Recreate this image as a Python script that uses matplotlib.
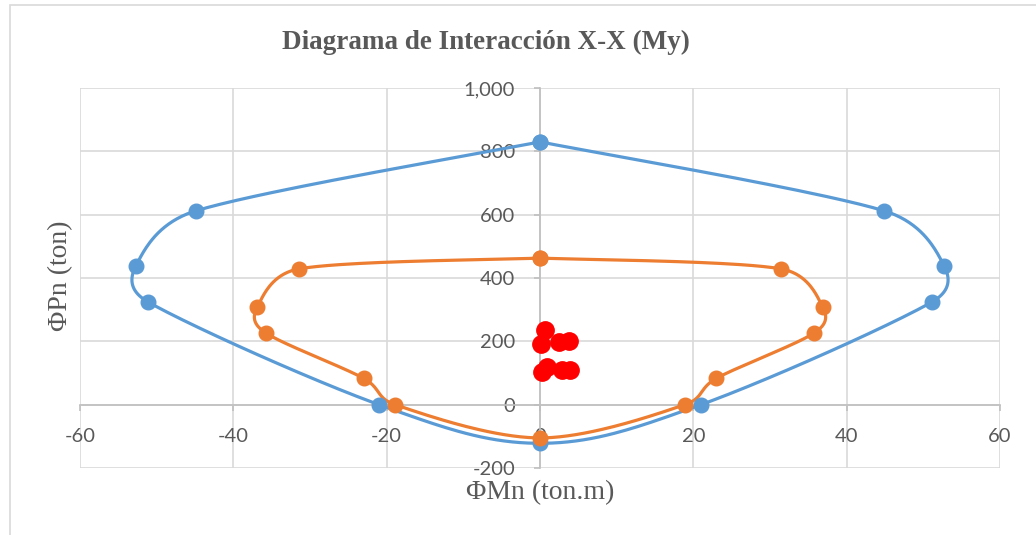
import numpy as np
import matplotlib
matplotlib.use("Agg")
import matplotlib.pyplot as plt
from matplotlib.patches import Rectangle
from matplotlib.ticker import FuncFormatter

# Interaction diagram, nominal (blue) and design (orange), single closed path each
blue_m = [0, 44.9, 52.7, 51.1, 21.0, 0, -21.0, -51.1, -52.7, -44.9, 0]
blue_p = [830, 612, 439, 324, 0, -122, 0, 324, 439, 612, 830]

orange_m = [0, 31.4, 36.9, 35.8, 23.0, 18.9, 0, -18.9, -23.0, -35.8, -36.9, -31.4, 0]
orange_p = [463, 429, 307, 227, 83, 0, -105, 0, 83, 227, 307, 429, 463]

# Load combinations (Mu, Pu)
red_m = [0.7, 0.1, 2.5, 3.8, 0.2, 0.9, 2.9, 3.9]
red_p = [235, 193, 198, 200, 103, 118, 108, 110]

x_ticks = [-60, -40, -20, 0, 20, 40, 60]
y_ticks = [-200, 0, 200, 400, 600, 800, 1000]

BLUE = "#5B9BD5"
ORANGE = "#ED7D31"
RED = "#FF0000"
GRID = "#D9D9D9"
AXIS = "#BFBFBF"
TEXT = "#595959"

plt.rcParams["axes.unicode_minus"] = False

W, H, DPI = 1036, 535, 100
fig = plt.figure(figsize=(W / DPI, H / DPI), dpi=DPI)
fig.patch.set_facecolor("white")

# chart-area frame
fig.add_artist(Rectangle((10 / W, -0.05), 1.2, 1 - 5 / H + 0.05,
                         transform=fig.transFigure, fill=False,
                         edgecolor=GRID, linewidth=1.2))

ax = fig.add_axes([80 / W, 1 - 468 / H, 920 / W, 380 / H])
ax.set_xlim(x_ticks[0], x_ticks[-1])
ax.set_ylim(y_ticks[0], y_ticks[-1])
ax.set_xticks(x_ticks)
ax.set_yticks(y_ticks)
ax.yaxis.set_major_formatter(FuncFormatter(lambda v, _: f"{int(v):,}"))
ax.xaxis.set_major_formatter(FuncFormatter(lambda v, _: f"{int(v)}"))

ax.grid(True, color=GRID, linewidth=1.2)
ax.set_axisbelow(True)
for side in ("top", "right"):
    ax.spines[side].set_visible(False)
ax.spines["left"].set_position(("data", 0))
ax.spines["bottom"].set_position(("data", 0))
for side in ("left", "bottom"):
    ax.spines[side].set_color(AXIS)
    ax.spines[side].set_linewidth(1.2)
    ax.spines[side].set_zorder(1.5)

ax.tick_params(axis="both", direction="out", length=4, width=1.2, color=AXIS,
               labelcolor=TEXT, labelsize=14.5)
ax.tick_params(axis="x", pad=13)
ax.tick_params(axis="y", pad=14)
for lab in ax.get_xticklabels() + ax.get_yticklabels():
    lab.set_family("Lato")


def smooth_path(xs, ys, n=40, limit=0.5):
    """Bezier smoothing (Catmull-Rom style) done in display space,
    with control arms capped relative to the segment length."""
    pts = ax.transData.transform(np.column_stack([xs, ys]))
    k = len(pts)
    out = [pts[0]]
    for i in range(k - 1):
        p0 = pts[max(i - 1, 0)]
        p1 = pts[i]
        p2 = pts[i + 1]
        p3 = pts[min(i + 2, k - 1)]
        seg_len = np.hypot(*(p2 - p1))
        a1 = (p2 - p0) / 6.0
        a2 = (p3 - p1) / 6.0
        for a in (a1, a2):
            L = np.hypot(*a)
            if L > limit * seg_len and L > 0:
                a *= limit * seg_len / L
        c1 = p1 + a1
        c2 = p2 - a2
        t = np.linspace(0, 1, n)[1:, None]
        seg = ((1 - t) ** 3) * p1 + 3 * ((1 - t) ** 2) * t * c1 \
            + 3 * (1 - t) * t ** 2 * c2 + t ** 3 * p2
        out.extend(seg)
    out = np.array(out)
    return ax.transData.inverted().transform(out)


for xs, ys, col in ((blue_m, blue_p, BLUE), (orange_m, orange_p, ORANGE)):
    curve = smooth_path(xs, ys)
    ax.plot(curve[:, 0], curve[:, 1], color=col, linewidth=2.3,
            solid_capstyle="round", zorder=3)
    ax.plot(xs, ys, linestyle="none", marker="o", markersize=10.5,
            color=col, zorder=4)

ax.plot(red_m, red_p, linestyle="none", marker="o", markersize=12.5,
        color=RED, zorder=5)

fig.text(486 / W, 1 - 42 / H, "Diagrama de Interacción X-X (My)",
         ha="center", va="center", family="Liberation Serif",
         fontweight="bold", fontsize=19.5, color=TEXT)
fig.text(61 / W, 1 - 276 / H, "ΦPn (ton)", rotation=90, ha="center",
         va="center", family="Liberation Serif", fontsize=20, color=TEXT)
fig.text(540 / W, 1 - 493 / H, "ΦMn (ton.m)", ha="center", va="center",
         family="Liberation Serif", fontsize=20, color=TEXT)

fig.savefig("out.png", dpi=DPI, facecolor="white")
